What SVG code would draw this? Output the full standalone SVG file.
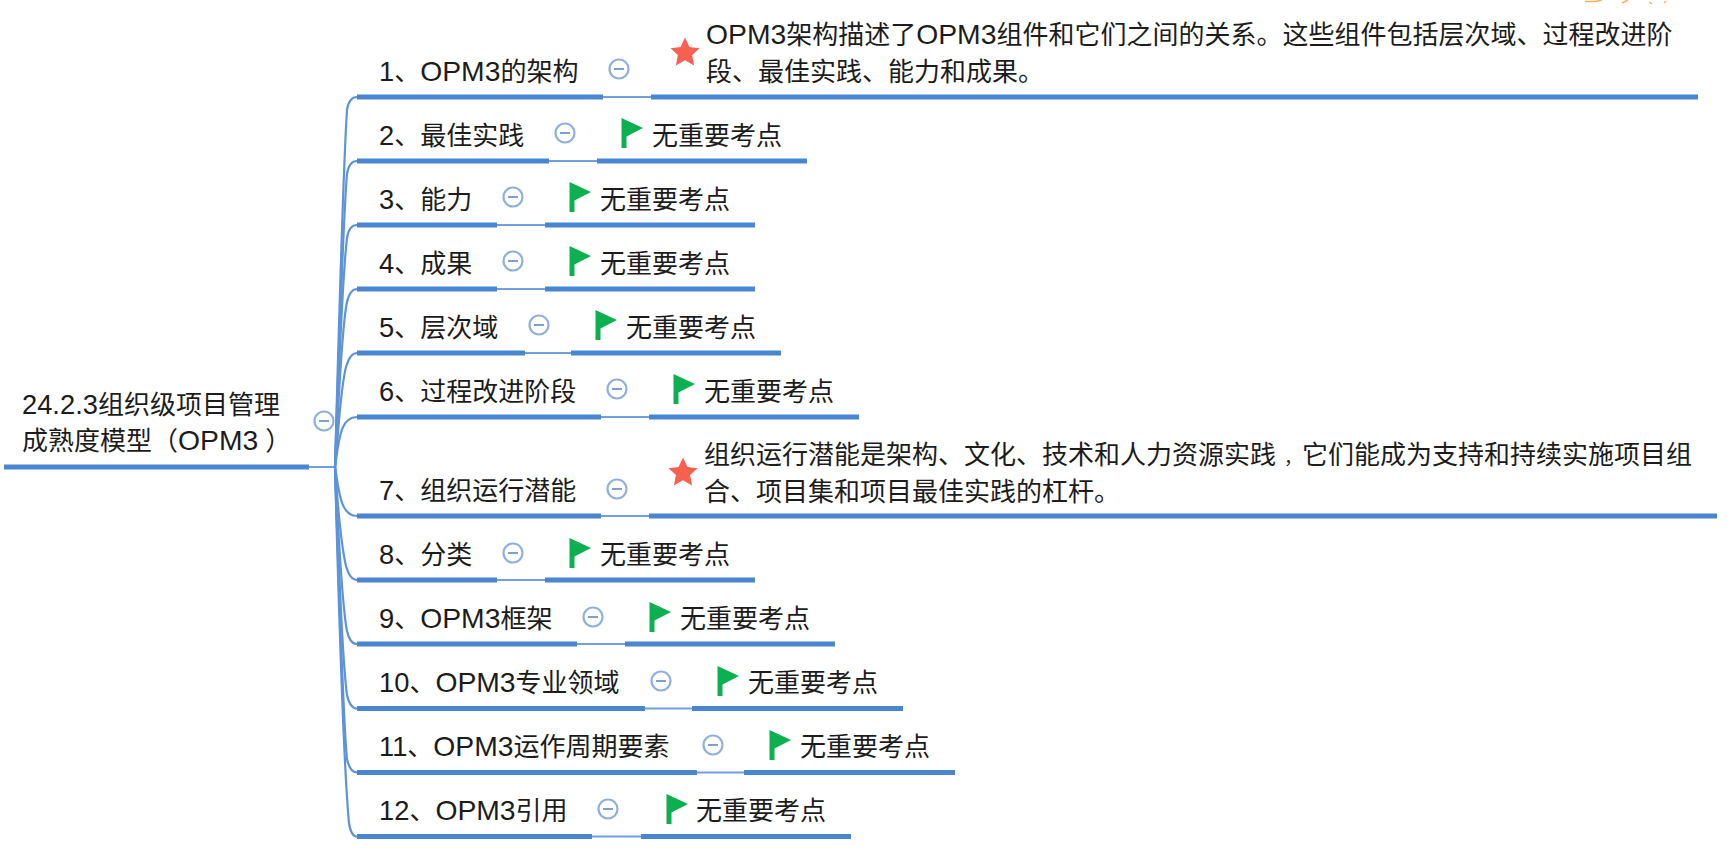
<svg xmlns="http://www.w3.org/2000/svg" width="1729" height="855" viewBox="0 0 1729 855">
<style>
text{font-family:"Noto Sans CJK SC","Liberation Sans",sans-serif;font-size:26px;fill:#1c1c1c}
.l{font-family:"Liberation Sans",sans-serif;font-size:27.3px}
.o{font-family:"Liberation Sans",sans-serif;font-size:28.3px}
.thick{stroke:#4a86d0;stroke-width:5;fill:none}
.thin{stroke:#6f9fdc;stroke-width:2;fill:none}
.curve{stroke:#5d94d8;stroke-width:2.2;fill:none}
.c{fill:#fff;stroke:#8fb0dc;stroke-width:2.2}
.m{stroke:#7f9fcc;stroke-width:2}
.flag{fill:#0db050}
.star{fill:#f8604f}
</style>
<defs>
<g id="tog"><circle class="c" r="9.5"/><path class="m" d="M-5 0H5"/></g>
<path id="fl" class="flag" d="M-2.500 -15L19 -5L2.500 3.500V15H-2.500Z"/>
<path id="st" class="star" d="M0 -14.500L4.500 -4.900 14.500 -3.800 7.100 3.100 9.100 13.500 0 8.300 -9.100 13.500 -7.100 3.100 -14.500 -3.800 -4.500 -4.900Z"/>
</defs>
<g id="connectors">
<path class="thin" d="M309 467H335"/>
<path class="curve" d="M335 467C339 320 343 170 347 110Q349 97 357 97"/>
<path class="curve" d="M335 467C339 350 343 220 347 174Q349 161 357 161"/>
<path class="curve" d="M335 467C338 390 342 280 347 238Q349 225 357 225"/>
<path class="curve" d="M335 467C338 420 341 330 347 302Q350 289 357 289"/>
<path class="curve" d="M335 467C338 440 340 390 346 367Q350 353 357 353"/>
<path class="curve" d="M335 467C339 440 340 417 357 417"/>
<path class="curve" d="M335 467C339 490 340 516 357 516"/>
<path class="curve" d="M335 467C338 510 341 545 346 566Q350 580 357 580"/>
<path class="curve" d="M335 467C338 520 341 600 347 631Q350 644 357 644"/>
<path class="curve" d="M335 467C338 550 342 660 347 695Q350 708.500 357 708.500"/>
<path class="curve" d="M335 467C339 590 343 720 347 759Q350 772.500 357 772.500"/>
<path class="curve" d="M335 467C339 620 344 770 349 823Q351 836.500 357 836.500"/>
<path class="thin" d="M603 97H651M549 161H597M497 225H545M497 289H545M525 353H571M601 417H649M601 516H649M497 580H545M577 644H625M645 708.500H692M697 772.500H744M592 836.500H641"/>
</g>
<g id="root"><path class="thick" d="M4 467H309"/><text x="22" y="414"><tspan class="l">24.2.3</tspan>组织级项目管理</text><text x="22" y="450">成熟度模型（<tspan class="o">OPM3</tspan><tspan dx="7">）</tspan></text><use href="#tog" x="324" y="421"/></g>
<g id="n1"><path class="thick" d="M357 97H603"/><text x="379" y="81"><tspan class="l">1</tspan>、<tspan class="o">OPM3</tspan>的架构</text><use href="#tog" x="619" y="69"/></g>
<g id="n1d"><path class="thick" d="M651 97H1698"/><use href="#st" x="685" y="52"/><text x="706" y="44"><tspan class="o">OPM3</tspan>架构描述了<tspan class="o">OPM3</tspan>组件和它们之间的关系。这些组件包括层次域、过程改进阶</text><text x="706" y="81">段、最佳实践、能力和成果。</text></g>
<g id="n2"><path class="thick" d="M357 161H549"/><text x="379" y="145"><tspan class="l">2</tspan>、最佳实践</text><use href="#tog" x="565" y="133"/></g>
<g id="n2d"><path class="thick" d="M597 161H807"/><use href="#fl" x="624" y="133"/><text x="652" y="145">无重要考点</text></g>
<g id="n3"><path class="thick" d="M357 225H497"/><text x="379" y="209"><tspan class="l">3</tspan>、能力</text><use href="#tog" x="513" y="197"/></g>
<g id="n3d"><path class="thick" d="M545 225H755"/><use href="#fl" x="572" y="197"/><text x="600" y="209">无重要考点</text></g>
<g id="n4"><path class="thick" d="M357 289H497"/><text x="379" y="273"><tspan class="l">4</tspan>、成果</text><use href="#tog" x="513" y="261"/></g>
<g id="n4d"><path class="thick" d="M545 289H755"/><use href="#fl" x="572" y="261"/><text x="600" y="273">无重要考点</text></g>
<g id="n5"><path class="thick" d="M357 353H525"/><text x="379" y="337"><tspan class="l">5</tspan>、层次域</text><use href="#tog" x="539" y="325"/></g>
<g id="n5d"><path class="thick" d="M571 353H781"/><use href="#fl" x="598" y="325"/><text x="626" y="337">无重要考点</text></g>
<g id="n6"><path class="thick" d="M357 417H601"/><text x="379" y="401"><tspan class="l">6</tspan>、过程改进阶段</text><use href="#tog" x="617" y="389"/></g>
<g id="n6d"><path class="thick" d="M649 417H859"/><use href="#fl" x="676" y="389"/><text x="704" y="401">无重要考点</text></g>
<g id="n7"><path class="thick" d="M357 516H601"/><text x="379" y="500"><tspan class="l">7</tspan>、组织运行潜能</text><use href="#tog" x="617" y="489"/></g>
<g id="n7d"><path class="thick" d="M649 516H1717"/><use href="#st" x="683" y="472"/><text x="704" y="464">组织运行潜能是架构、文化、技术和人力资源实践<tspan dx="8" font-size="18">，</tspan>它们能成为支持和持续实施项目组</text><text x="704" y="501">合、项目集和项目最佳实践的杠杆。</text></g>
<g id="n8"><path class="thick" d="M357 580H497"/><text x="379" y="564"><tspan class="l">8</tspan>、分类</text><use href="#tog" x="513" y="553"/></g>
<g id="n8d"><path class="thick" d="M545 580H755"/><use href="#fl" x="572" y="553"/><text x="600" y="564">无重要考点</text></g>
<g id="n9"><path class="thick" d="M357 644H577"/><text x="379" y="628"><tspan class="l">9</tspan>、<tspan class="o">OPM3</tspan>框架</text><use href="#tog" x="593" y="617"/></g>
<g id="n9d"><path class="thick" d="M625 644H835"/><use href="#fl" x="652" y="617"/><text x="680" y="628">无重要考点</text></g>
<g id="n10"><path class="thick" d="M357 708.500H645"/><text x="379" y="692"><tspan class="l">10</tspan>、<tspan class="o">OPM3</tspan>专业领域</text><use href="#tog" x="661" y="681"/></g>
<g id="n10d"><path class="thick" d="M692 708.500H903"/><use href="#fl" x="720" y="681"/><text x="748" y="692">无重要考点</text></g>
<g id="n11"><path class="thick" d="M357 772.500H697"/><text x="379" y="756"><tspan class="l">11</tspan>、<tspan class="o">OPM3</tspan>运作周期要素</text><use href="#tog" x="713" y="745"/></g>
<g id="n11d"><path class="thick" d="M744 772.500H955"/><use href="#fl" x="772" y="745"/><text x="800" y="756">无重要考点</text></g>
<g id="n12"><path class="thick" d="M357 836.500H592"/><text x="379" y="820"><tspan class="l">12</tspan>、<tspan class="o">OPM3</tspan>引用</text><use href="#tog" x="608" y="809"/></g>
<g id="n12d"><path class="thick" d="M641 836.500H851"/><use href="#fl" x="669" y="809"/><text x="696" y="820">无重要考点</text></g>
<path d="M1585 1.500L1595 1.500L1602 0M1622 3L1628 0M1649 2L1652 4M1664 3L1666 1" fill="none" stroke="#f7b060" stroke-width="1.500"/>
</svg>
